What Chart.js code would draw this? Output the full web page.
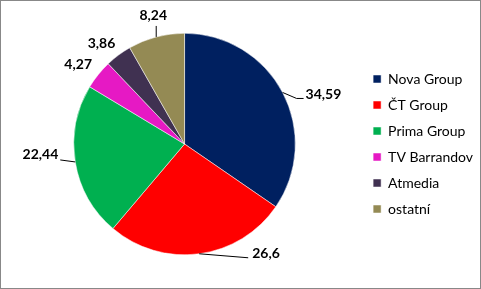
<!DOCTYPE html>
<html><head><meta charset="utf-8">
<script src="https://cdn.jsdelivr.net/npm/chart.js@4"></script>
<style>
html,body{margin:0;padding:0;background:#fff;}
#wrap{width:479px;height:287px;border:1px solid #888;position:relative;}
canvas{display:block;}
</style></head><body>
<div id="wrap"><canvas id="c" width="479" height="287"></canvas></div>
<script>
const categories = ['Nova Group', 'ČT Group', 'Prima Group', 'TV Barrandov', 'Atmedia', 'ostatní'];
const shares = [34.59, 26.6, 22.44, 4.27, 3.86, 8.24];
const valueLabels = ['34,59', '26,6', '22,44', '4,27', '3,86', '8,24'];
const colors = ['#002060', '#FF0000', '#00B050', '#E619C4', '#403151', '#948A54'];

// label placement relative to each slice's outer mid point (style only)
const labelPlace = [
  {dx: 23, dy: 2, align: 'left', leader: [[14, 6], [21, 6]]},
  {dx: 53, dy: 0, align: 'left', leader: [[49, 4]]},
  {dx: -17, dy: -7, align: 'right', leader: [[-15, -2]]},
  {dx: -20, dy: -10, align: 'center', leader: null},
  {dx: -17, dy: -12, align: 'center', leader: null},
  {dx: -3, dy: -21, align: 'center', leader: [[0, -11]]}
];

const labelPlugin = {
  id: 'outLabels',
  afterDatasetsDraw(chart) {
    const ctx = chart.ctx;
    const meta = chart.getDatasetMeta(0);
    ctx.save();
    meta.data.forEach((arc, i) => {
      const p = arc.getProps(['x', 'y', 'startAngle', 'endAngle', 'outerRadius'], true);
      const mid = (p.startAngle + p.endAngle) / 2;
      const ex = p.x + Math.cos(mid) * p.outerRadius;
      const ey = p.y + Math.sin(mid) * p.outerRadius;
      const pl = labelPlace[i];
      if (pl.leader) {
        ctx.beginPath();
        ctx.strokeStyle = '#000';
        ctx.lineWidth = 1;
        ctx.moveTo(ex, ey);
        pl.leader.forEach(q => ctx.lineTo(ex + q[0], ey + q[1]));
        ctx.stroke();
      }
      ctx.fillStyle = '#000';
      ctx.font = 'bold 14px Lato';
      ctx.textAlign = pl.align;
      ctx.textBaseline = 'middle';
      ctx.fillText(valueLabels[i], ex + pl.dx, ey + pl.dy);
    });
    ctx.restore();
  }
};

new Chart(document.getElementById('c'), {
  type: 'pie',
  data: {
    labels: categories,
    datasets: [{
      data: shares,
      backgroundColor: colors,
      borderColor: '#ffffff',
      borderWidth: 0.5
    }]
  },
  options: {
    responsive: false,
    animation: false,
    layout: {padding: {top: 32, bottom: 33, left: 7, right: -3}},
    plugins: {
      tooltip: {enabled: false},
      legend: {
        position: 'right',
        labels: {
          boxWidth: 8,
          boxHeight: 8,
          padding: 12,
          color: '#000',
          font: {family: 'Lato', size: 14}
        }
      }
    }
  },
  plugins: [labelPlugin]
});
</script>
</body></html>
